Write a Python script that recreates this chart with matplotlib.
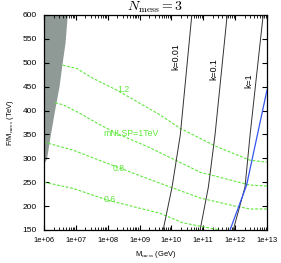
import numpy as np
import matplotlib
matplotlib.use("Agg")
import matplotlib.pyplot as plt
from matplotlib.ticker import FixedLocator, LogLocator, NullFormatter

plt.rcParams['font.family'] = ['Liberation Sans', 'DejaVu Sans']
plt.rcParams['mathtext.fontset'] = 'cm'

# --- data (log10 of M_mess in GeV, F/M_mess in TeV) ---
grey_F = [600, 542, 500, 450, 400, 350, 300, 290]
grey_logM = [6.73, 6.66, 6.57, 6.47, 6.33, 6.20, 6.08, 6.0]

c12_logM = [6.59, 7.03, 7.55, 8.28, 8.91, 9.64, 10.27, 11.4, 12.47, 13.0]
c12_F = [495, 488, 467, 443, 419, 391, 363, 325, 296, 292]
c10_logM = [6.35, 6.61, 7.13, 7.76, 8.39, 9.33, 10.9, 12.0, 12.47, 13.0]
c10_F = [416, 412, 394, 370, 349, 322, 271, 252, 244, 242]
c08_logM = [6.0, 6.92, 7.97, 8.80, 9.64, 10.9, 12.0, 12.47, 13.0]
c08_F = [334, 317, 290, 269, 248, 217, 200, 194, 194]
c06_logM = [6.0, 6.92, 7.97, 8.80, 9.64, 10.36, 11.52]
c06_F = [250, 237, 213, 199, 185, 165, 150]

k001_logM = [10.64, 10.28, 10.02, 9.74]
k01_logM = [11.75, 11.37, 11.16, 10.90]
k1_logM = [12.88, 12.47, 12.31, 11.94]
k_F = [600, 350, 240, 150]

blue_logM = [13.0, 12.73, 12.36, 11.84]
blue_F = [443, 359, 244, 150]

xtick_vals = [1e6, 1e7, 1e8, 1e9, 1e10, 1e11, 1e12, 1e13]
xtick_labels = ['1e+06', '1e+07', '1e+08', '1e+09', '1e+10', '1e+11', '1e+12', '1e+13']
ytick_vals = [150, 200, 250, 300, 350, 400, 450, 500, 550, 600]

green = '#5ee83a'
grey = '#8f9996'

fig = plt.figure(figsize=(2.81, 2.63), dpi=100)
ax = fig.add_axes([44/281, 1-230/263, (267-44)/281, (230-15)/263])

p = lambda v: 10**np.array(v)

ax.fill_betweenx(grey_F, 1e6, p(grey_logM), color=grey, lw=0, zorder=1)

for lx, ly in [(c12_logM, c12_F), (c10_logM, c10_F), (c08_logM, c08_F), (c06_logM, c06_F)]:
    ax.plot(p(lx), ly, color=green, lw=0.8, ls=(0, (2.5, 1.5)), zorder=2)

for lx in [k001_logM, k01_logM, k1_logM]:
    ax.plot(p(lx), k_F, color='#333333', lw=0.7, zorder=3)

ax.plot(p(blue_logM), blue_F, color='#3355ee', lw=0.9, zorder=3)

fs = 5.4
lfs = 6.3
for txt, lx, ly in [('1.2', 8.48, 445), ('mNLSP=1TeV', 8.72, 352), ('0.8', 8.35, 278), ('0.6', 8.07, 213)]:
    ax.text(10**lx, ly, txt, color=green, fontsize=lfs, ha='center', va='center', zorder=4)
for txt, lx, ly in [('k=0.01', 10.14, 512), ('k=0.1', 11.34, 487), ('k=1', 12.42, 462)]:
    ax.text(10**lx, ly, txt, color='black', fontsize=lfs, rotation=90, ha='center', va='center', zorder=4)

ax.set_xscale('log')
ax.set_xlim(1e6, 1e13)
ax.set_ylim(150, 600)
ax.xaxis.set_major_locator(FixedLocator(xtick_vals))
ax.set_xticklabels(xtick_labels)
ax.xaxis.set_minor_locator(LogLocator(base=10, subs=np.arange(2, 10)))
ax.xaxis.set_minor_formatter(NullFormatter())
ax.set_yticks(ytick_vals)
ax.tick_params(axis='both', which='both', direction='in', top=True, right=True, labelsize=fs)
ax.tick_params(axis='x', which='major', pad=5)
ax.tick_params(axis='y', which='major', pad=5, labelsize=6)
ax.tick_params(which='major', length=3.5, width=0.8)
ax.tick_params(which='minor', length=2, width=0.6)
for s in ax.spines.values():
    s.set_linewidth(0.9)

ax.set_xlabel(r'M$_{\rm mess}$ (GeV)', fontsize=fs, labelpad=4)
ax.set_ylabel(r'F/M$_{\rm mess}$ (TeV)', fontsize=fs, labelpad=5)
ax.set_title(r'$N_{\rm mess} = 3$', fontsize=10, pad=2)

fig.savefig('out.png', dpi=100)
